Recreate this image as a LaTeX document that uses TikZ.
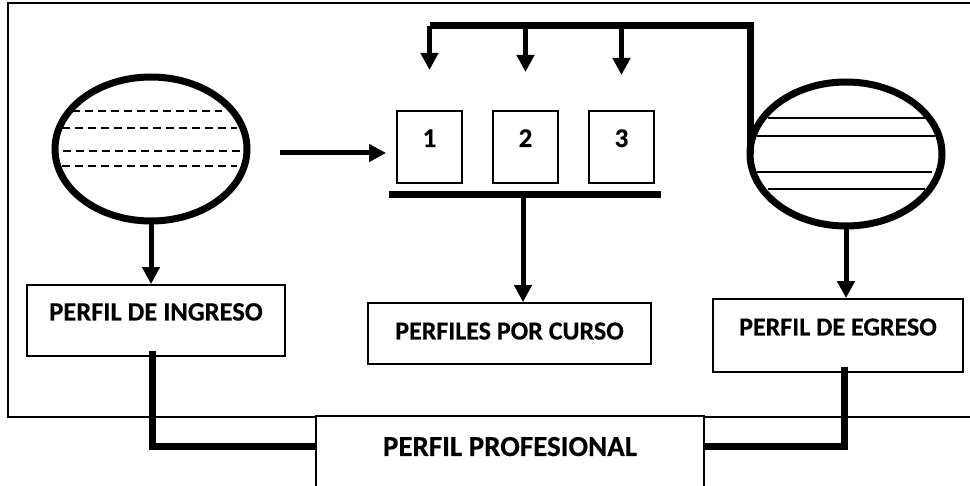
\documentclass[tikz,border=0pt]{standalone}
\usepackage{fontspec}
\setmainfont[BoldFeatures={FakeBold=0.4}]{Carlito}
\usetikzlibrary{arrows.meta,shapes.geometric,calc}
\tikzset{
	perfil/.style={
			draw, line width=1.8pt, fill=white, inner sep=0pt,
			text height=10pt, text depth=10pt,
			font=\fontsize{#1}{28}\selectfont\bfseries
		},
	perfil/.default=26,
	globo/.style={ellipse, draw, line width=7pt, minimum width=192pt, minimum height=144pt, inner sep=0pt},
	flecha/.style={line width=5pt, -{Triangle[width=17pt,length=17pt]}},
	barra/.style={line width=7pt},
	raya/.style={line width=1.5pt}
}

\begin{document}
\begin{tikzpicture}[x=1pt, y=-1pt]
			\useasboundingbox (0,0) rectangle (970,486);
			\draw[line width=1.5pt] (8,3) rectangle (975,417);

			% ellipses
			\node[globo] (ingrell) at (151,149) {};
			\node[globo] (egrell) at (846,154) {};
			\foreach \y/\a/\b in {111/72/222, 128/62/237, 151/63/241, 166/62/237}
				\draw[raya, dash pattern=on 8pt off 5pt] (\a,\y) -- (\b,\y);
			\foreach \y/\a/\b in {118/768/925, 136/757/935, 172/757/932, 189/768/925}
				\draw[raya] (\a,\y) -- (\b,\y);

			% courses
			\foreach \n/\x in {1/429.5, 2/525.5, 3/621.5}
				\node[perfil=27, minimum width=65pt, minimum height=72pt] (c\n) at (\x,147) {\n};

			\node[perfil=26.5, minimum width=258pt, minimum height=71pt] (ingreso) at (156,320.5) {PERFIL DE INGRESO};
			\node[perfil, minimum width=283pt, minimum height=61pt, text height=16pt, text depth=4pt] (cursos) at (509.5,333.5) {PERFILES POR CURSO};
			\node[perfil, minimum width=250pt, minimum height=73pt] (egreso) at (838,335.5) {PERFIL DE EGRESO};
			\node[perfil=29, minimum width=388pt, minimum height=80pt] (profesional) at (510,456) {PERFIL PROFESIONAL};

			% connectors
			\coordinate (top) at (429.5,26);
			\coordinate (entrada) at (280,153);
			\coordinate (barI) at (389,195);
			\coordinate (barD) at (661,195);
			\coordinate (barM) at (523,195);

			\draw[barra] ([xshift=3.5pt]egrell.west) |- (top);
			\draw[flecha] (c1 |- top) -- ++(0,44);
			\draw[flecha] (c2 |- top) -- ++(0,46);
			\draw[flecha] (c3 |- top) -- ++(0,49);
			\draw[flecha] (entrada) -- ([xshift=-10pt]c1.west |- entrada);
			\draw[barra] (barI) -- (barD);
			\draw[flecha] (barM) -- (barM |- cursos.north);
			\draw[flecha] (ingrell.south) -- (ingrell.south |- ingreso.north);
			\draw[flecha] (egrell.south) -- (egrell.south |- egreso.north);
			\draw[barra] ([xshift=-4pt,yshift=6pt]ingreso.south) |- ([yshift=9pt]profesional.west);
			\draw[barra] ([xshift=6pt,yshift=6pt]egreso.south) |- ([yshift=9pt]profesional.east);
		\end{tikzpicture}
\end{document}
